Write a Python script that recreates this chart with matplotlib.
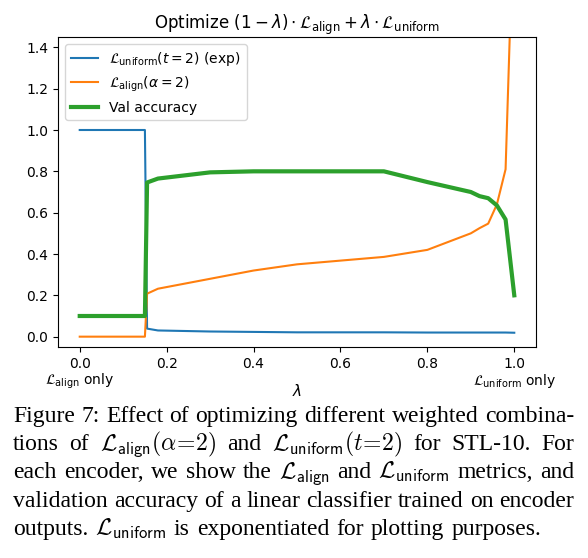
import matplotlib
matplotlib.use("Agg")
import matplotlib.pyplot as plt

# lambda values and the three metrics
lam = [0.0, 0.15, 0.155, 0.18, 0.3, 0.4, 0.5, 0.7, 0.8, 0.9, 0.92, 0.94, 0.96, 0.98, 1.0]
uniform_exp = [1.0, 1.0, 0.039, 0.030, 0.025, 0.023, 0.021, 0.021, 0.020, 0.020, 0.020, 0.020, 0.020, 0.020, 0.019]
align = [0.0, 0.0, 0.208, 0.232, 0.28, 0.32, 0.35, 0.386, 0.42, 0.50, 0.525, 0.547, 0.64, 0.81, 2.15]
val_acc = [0.10, 0.10, 0.746, 0.765, 0.795, 0.80, 0.80, 0.80, 0.748, 0.70, 0.68, 0.67, 0.635, 0.567, 0.20]

xticks = [0.0, 0.2, 0.4, 0.6, 0.8, 1.0]
yticks = [0.0, 0.2, 0.4, 0.6, 0.8, 1.0, 1.2, 1.4]

caption_lines = [
    ["Figure", "7:", "Effect", "of", "optimizing", "different", "weighted", "combina-"],
    ["tions", "of", r"$\mathcal{L}_{\mathsf{align}}(\alpha\!=\!2)$", "and",
     r"$\mathcal{L}_{\mathsf{uniform}}(t\!=\!2)$", "for", "STL-10.", "For"],
    ["each", "encoder,", "we", "show", "the", r"$\mathcal{L}_{\mathsf{align}}$", "and",
     r"$\mathcal{L}_{\mathsf{uniform}}$", "metrics,", "and"],
    ["validation", "accuracy", "of", "a", "linear", "classifier", "trained", "on", "encoder"],
    ["outputs.", r"$\mathcal{L}_{\mathsf{uniform}}$", "is", "exponentiated", "for", "plotting", "purposes."],
]

W, H = 588, 558
fig = plt.figure(figsize=(W / 100, H / 100), dpi=100)
ax = fig.add_axes([58 / W, 1 - 347 / H, (536 - 58) / W, (347 - 37) / H])

ax.plot(lam, uniform_exp, color="C0", lw=1.5, label=r"$\mathcal{L}_{\mathsf{uniform}}(t=2)$ (exp)")
ax.plot(lam, align, color="C1", lw=1.5, label=r"$\mathcal{L}_{\mathsf{align}}(\alpha=2)$")
ax.plot(lam, val_acc, color="C2", lw=3, label="Val accuracy")

ax.set_ylim(-0.05, 1.45)
ax.set_xlim(-0.05, 1.05)
ax.set_xticks(xticks)
ax.set_yticks(yticks)
ax.tick_params(labelsize=10)
ax.legend(loc="upper left", fontsize=10)
ax.set_title(r"Optimize $(1-\lambda)\cdot\mathcal{L}_{\mathsf{align}} + \lambda\cdot\mathcal{L}_{\mathsf{uniform}}$",
             fontsize=12)

tr = ax.get_xaxis_transform()
ax.text(0.0, -0.11, r"$\mathcal{L}_{\mathsf{align}}$ only", transform=tr, ha="center", va="center", fontsize=10)
ax.text(1.0, -0.11, r"$\mathcal{L}_{\mathsf{uniform}}$ only", transform=tr, ha="center", va="center", fontsize=10)
ax.set_xlabel(r"$\lambda$", fontsize=11)
ax.xaxis.set_label_coords(0.5, -0.115)

# caption, justified word by word
x0, x1 = 13 / W, 574 / W
baselines = [422, 450, 478, 507, 535]
renderer = fig.canvas.get_renderer()


def word_widths(words, size):
    ts = [fig.text(0, 0, w, fontsize=size, family="Liberation Serif", math_fontfamily="cm") for w in words]
    ws = [t.get_window_extent(renderer).width for t in ts]
    for t in ts:
        t.remove()
    return ws


# pick the size that makes the first line fill the width with normal spacing
probe = 14
ws = word_widths(caption_lines[0], probe)
natural = sum(ws) + 0.25 * probe * 100 / 72 * (len(ws) - 1)
size = probe * (574 - 13) / natural

for i, words in enumerate(caption_lines):
    y = 1 - baselines[i] / H
    texts = [fig.text(0, y, w, fontsize=size, family="Liberation Serif", math_fontfamily="cm",
                      va="baseline", ha="left") for w in words]
    widths = [t.get_window_extent(renderer).width / W for t in texts]
    if i < len(caption_lines) - 1:
        gap = (x1 - x0 - sum(widths)) / (len(words) - 1)
    else:
        gap = 0.3 * size * 100 / 72 / W
    x = x0
    for t, w in zip(texts, widths):
        t.set_x(x)
        x += w + gap

fig.savefig("out.png", dpi=100)
